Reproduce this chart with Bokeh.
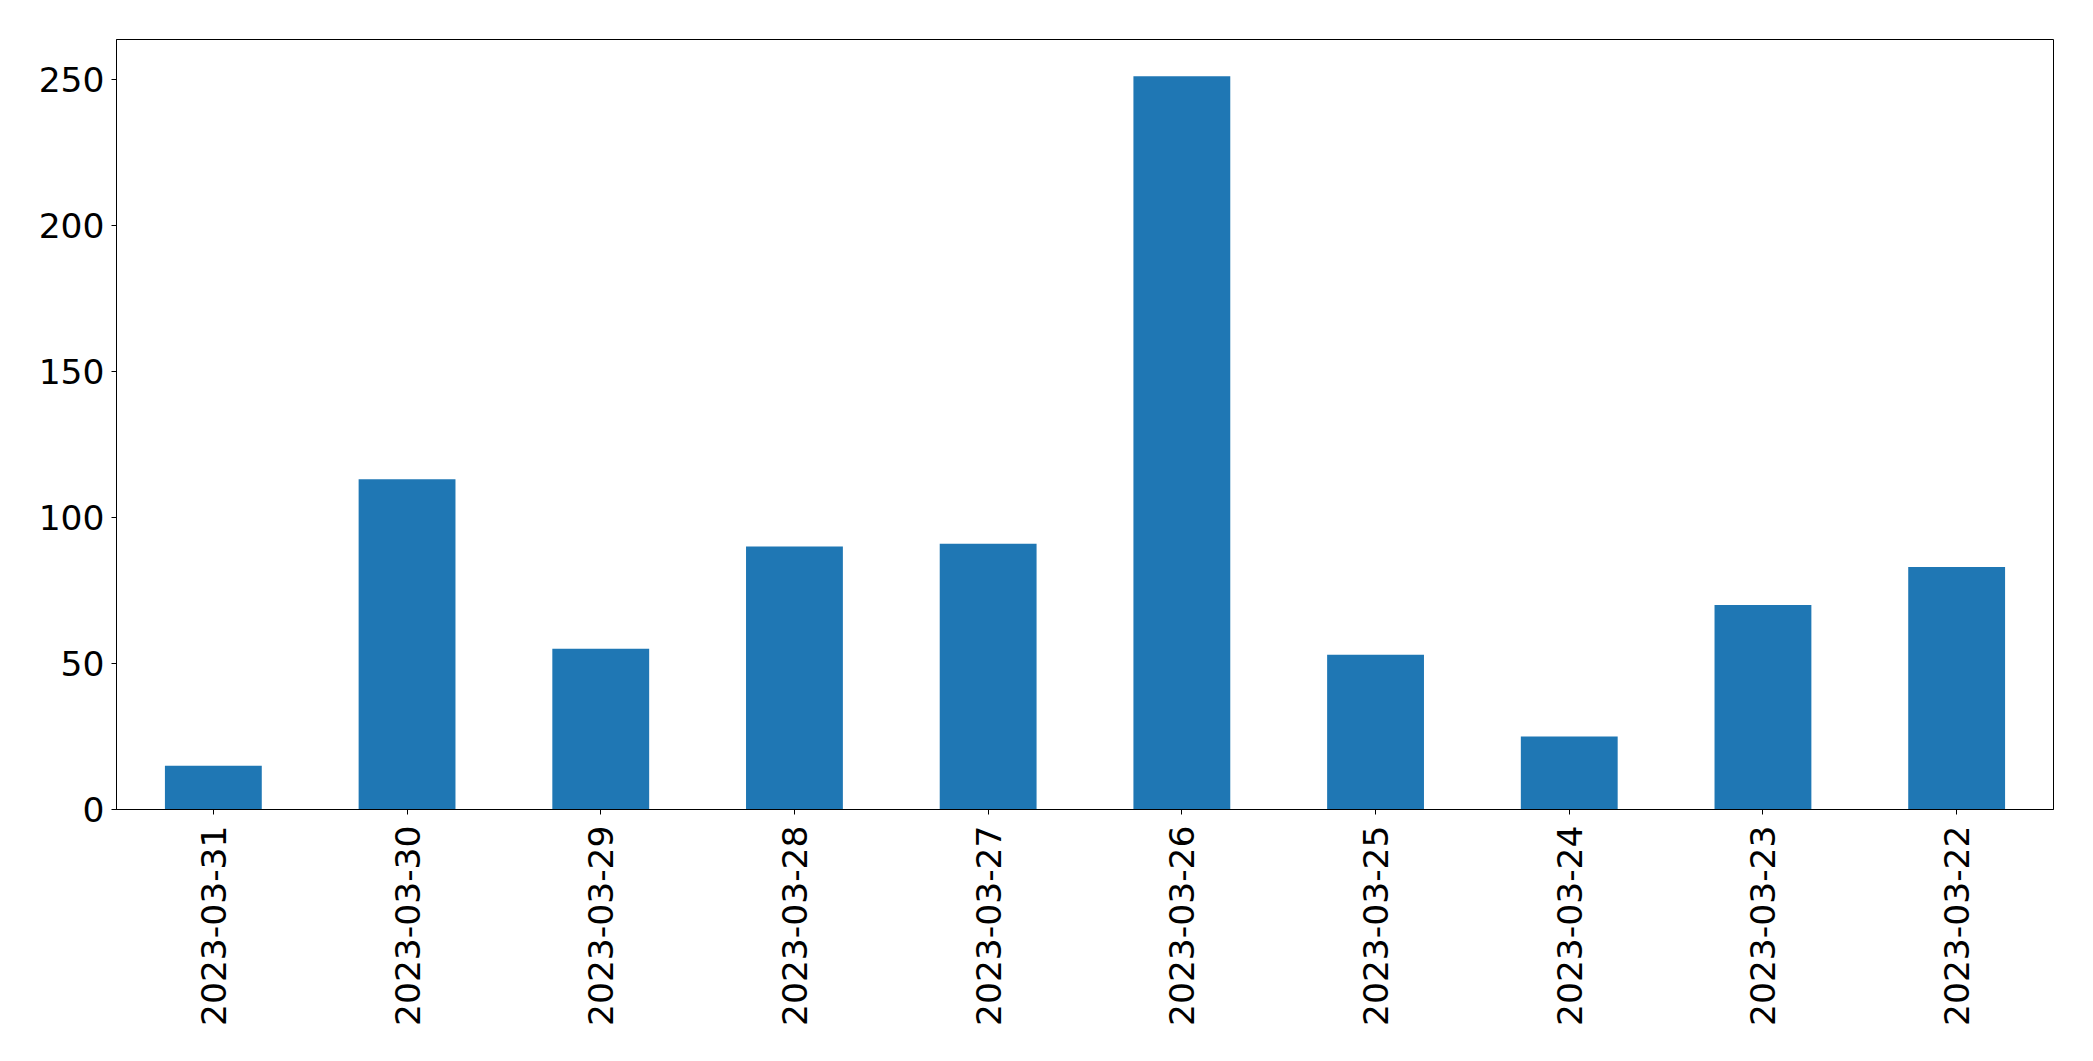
from bokeh.plotting import figure
from bokeh.models import Range1d, FactorRange, FixedTicker, ColumnDataSource
from bokeh.embed import file_html
from bokeh.resources import INLINE
import math

dates = ["2023-03-31", "2023-03-30", "2023-03-29", "2023-03-28", "2023-03-27",
         "2023-03-26", "2023-03-25", "2023-03-24", "2023-03-23", "2023-03-22"]
counts = [15, 113, 55, 90, 91, 251, 53, 25, 70, 83]
y_ticks = [0, 50, 100, 150, 200, 250]

src = ColumnDataSource(dict(x=dates, top=counts))

p = figure(width=2085, height=1053, output_backend="svg", toolbar_location=None,
           x_range=FactorRange(factors=dates, range_padding=0),
           y_range=Range1d(0, max(counts) * 1.05),
           min_border_left=116, min_border_right=32, min_border_top=39, min_border_bottom=244)

p.vbar(x="x", top="top", width=0.5, source=src, fill_color="#1f77b4", line_color=None)

p.xgrid.visible = False
p.ygrid.visible = False
p.outline_line_color = "black"
p.outline_line_width = 1
p.outline_line_alpha = 1
p.background_fill_color = "white"
p.border_fill_color = "white"

p.yaxis.ticker = FixedTicker(ticks=y_ticks)
p.yaxis.minor_tick_line_color = None

for ax in (p.xaxis[0], p.yaxis[0]):
    ax.axis_line_color = "black"
    ax.axis_line_width = 1
    ax.major_tick_line_color = "black"
    ax.major_tick_line_width = 1
    ax.major_tick_out = 5
    ax.major_tick_in = 0
    ax.major_label_text_font = "DejaVu Sans"
    ax.major_label_text_font_size = "34.5px"
    ax.major_label_text_color = "black"

p.yaxis.major_label_standoff = 7
p.xaxis.major_label_standoff = 11
p.xaxis.major_label_orientation = math.pi / 2
p.xaxis.group_text_font_size = "0px"

open("out.html", "w").write(file_html(p, INLINE))
